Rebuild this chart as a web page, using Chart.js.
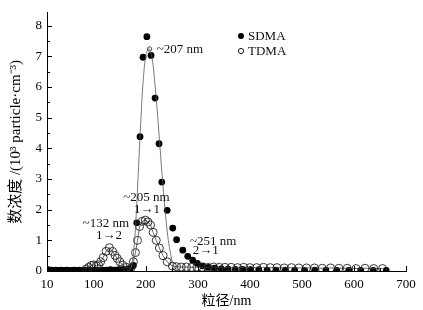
<!DOCTYPE html>
<html>
<head>
<meta charset="utf-8">
<script src="https://cdn.jsdelivr.net/npm/chart.js@4.4.0/dist/chart.umd.min.js"></script>
<style>
  html, body { margin: 0; padding: 0; background: #fff; }
</style>
</head>
<body>
<canvas id="chart" width="423" height="310"></canvas>
<script>
// SDMA measured points (nm, 10^3 particle/cm^3)
const sdmaSize = [
    11, 13, 15, 17, 19, 21, 24, 27, 30, 33,
    36, 40, 44, 48, 52, 57, 62, 67, 72, 78,
    84, 90, 96, 103, 110, 117, 124, 132, 140, 148,
    156, 164, 170, 176, 182.5, 188.8, 194.6, 202, 210, 217.7,
    225.4, 230.6, 241, 251.7, 259, 271, 280.5, 290, 299, 309,
    320, 332, 345, 358, 372, 386, 401, 417, 433, 450,
    468, 486, 505, 525, 546, 567, 590, 613, 637, 662
];
const sdmaConc = [
    0.04, 0.03, 0.03, 0.02, 0.03, 0.02, 0.02, 0.03, 0.02, 0.02,
    0.03, 0.02, 0.02, 0.03, 0.02, 0.02, 0.03, 0.02, 0.03, 0.02,
    0.02, 0.03, 0.02, 0.03, 0.02, 0.03, 0.03, 0.04, 0.03, 0.04,
    0.05, 0.05, 0.08, 0.18, 1.57, 4.38, 6.97, 7.64, 7.03, 5.64,
    4.15, 2.9, 1.98, 1.4, 1.02, 0.68, 0.48, 0.35, 0.25, 0.17,
    0.12, 0.09, 0.07, 0.06, 0.05, 0.05, 0.04, 0.04, 0.03, 0.03,
    0.03, 0.03, 0.02, 0.03, 0.02, 0.02, 0.02, 0.02, 0.02, 0.02
];

// TDMA measured points
const tdmaSize = [
    85, 90, 95, 100, 105, 109, 113, 118, 123.5, 129.9,
    136, 140.8, 145, 150, 155.5, 163, 171, 176, 180, 184,
    188, 193, 199, 204, 209, 214, 220, 226, 233, 241,
    251, 259, 268, 278, 288, 298, 308, 319, 330, 341,
    352, 364, 376, 388, 400, 413, 426, 439, 452, 466,
    480, 494, 509, 524, 539, 555, 571, 587, 604, 621,
    638, 655
];
const tdmaConc = [
    0.06, 0.12, 0.18, 0.2, 0.17, 0.2, 0.3, 0.44, 0.64, 0.76,
    0.64, 0.51, 0.41, 0.3, 0.19, 0.12, 0.09, 0.3, 0.6, 1.0,
    1.45, 1.62, 1.66, 1.6, 1.5, 1.26, 1.0, 0.75, 0.5, 0.3,
    0.16, 0.14, 0.13, 0.13, 0.12, 0.13, 0.12, 0.12, 0.13, 0.12,
    0.12, 0.12, 0.11, 0.12, 0.11, 0.11, 0.12, 0.11, 0.11, 0.1,
    0.11, 0.1, 0.1, 0.1, 0.09, 0.1, 0.09, 0.09, 0.08, 0.09,
    0.08, 0.08
];

// fitted SDMA peak (~207 nm)
const fitSize = [166, 170, 174, 178, 182, 186, 190, 194, 198, 202, 206, 210, 214,
    218, 222, 226, 230, 234, 238, 242, 246, 250, 254, 258, 262];
const fitConc = [0, 0.05, 0.3, 0.9, 2.0, 3.4, 4.8, 6.0, 6.8, 7.15, 7.24, 7.1, 6.7,
    6.0, 5.2, 4.3, 3.4, 2.55, 1.8, 1.15, 0.7, 0.35, 0.15, 0.05, 0];
const peakSize = [207];
const peakConc = [7.24];

// axis ticks
const xTickValues = [10, 100, 200, 300, 400, 500, 600, 700];
const xMinorTicks = [50, 150, 250, 350, 450, 550, 650];
const yTickValues = [0, 1, 2, 3, 4, 5, 6, 7, 8];
const yMinorTicks = [0.5, 1.5, 2.5, 3.5, 4.5, 5.5, 6.5, 7.5, 8.5];

const SERIF = "'Liberation Serif', 'Noto Sans CJK SC', serif";

// text labels placed in data coordinates
const notes = [
    { text: '~207 nm', x: 221, y: 7.23, align: 'left' },
    { text: '~205 nm', x: 201, y: 2.41, align: 'center' },
    { text: '1\u21921', x: 202, y: 1.99, align: 'center' },
    { text: '~132 nm', x: 123, y: 1.55, align: 'center' },
    { text: '1\u21922', x: 129, y: 1.16, align: 'center' },
    { text: '~251 nm', x: 285, y: 0.97, align: 'left' },
    { text: '2\u21921', x: 290, y: 0.65, align: 'left' }
];

function toPoints(xs, ys) {
    return xs.map((v, i) => ({ x: v, y: ys[i] }));
}

const decorPlugin = {
    id: 'decor',
    afterDraw(chart) {
        const { ctx, scales: { x, y } } = chart;
        ctx.save();
        ctx.strokeStyle = '#000';
        ctx.lineWidth = 1;
        ctx.beginPath();
        // inward ticks
        yTickValues.concat(yMinorTicks).forEach(v => {
            if (v > y.max) return;
            const py = Math.round(y.getPixelForValue(v)) + 0.5;
            const len = Number.isInteger(v) ? 5 : 3;
            ctx.moveTo(x.left, py);
            ctx.lineTo(x.left + len, py);
        });
        xTickValues.concat(xMinorTicks).forEach(v => {
            const px = Math.round(x.getPixelForValue(v)) + 0.5;
            const len = v % 100 === 0 ? 5 : 3;
            ctx.moveTo(px, y.bottom);
            ctx.lineTo(px, y.bottom - len);
        });
        ctx.stroke();

        // notes
        ctx.fillStyle = '#111';
        ctx.font = '13px ' + SERIF;
        ctx.textBaseline = 'middle';
        notes.forEach(n => {
            ctx.textAlign = n.align;
            ctx.fillText(n.text, x.getPixelForValue(n.x), y.getPixelForValue(n.y));
        });

        // legend
        ctx.textAlign = 'left';
        ctx.beginPath();
        ctx.arc(241, 36, 3, 0, Math.PI * 2);
        ctx.fillStyle = '#000';
        ctx.fill();
        ctx.beginPath();
        ctx.arc(241, 51, 2.6, 0, Math.PI * 2);
        ctx.lineWidth = 0.9;
        ctx.stroke();
        ctx.fillStyle = '#111';
        ctx.fillText('SDMA', 248, 37);
        ctx.fillText('TDMA', 248, 52);
        ctx.restore();
    }
};

new Chart(document.getElementById('chart'), {
    type: 'scatter',
    data: {
        datasets: [
            {
                label: 'fit',
                data: toPoints(fitSize, fitConc),
                showLine: true,
                borderColor: '#555',
                borderWidth: 0.8,
                pointRadius: 0,
                cubicInterpolationMode: 'monotone'
            },
            {
                label: 'peak',
                data: toPoints(peakSize, peakConc),
                pointRadius: 2.2,
                pointBackgroundColor: '#fff',
                pointBorderColor: '#222',
                pointBorderWidth: 0.8
            },
            {
                label: 'TDMA',
                data: toPoints(tdmaSize, tdmaConc),
                showLine: true,
                borderColor: '#444',
                borderWidth: 0.8,
                pointRadius: 4,
                pointBackgroundColor: 'rgba(255,255,255,0)',
                pointBorderColor: '#222',
                pointBorderWidth: 0.9
            },
            {
                label: 'SDMA',
                data: toPoints(sdmaSize, sdmaConc),
                pointRadius: 3.4,
                pointBackgroundColor: '#000',
                pointBorderColor: '#000',
                pointBorderWidth: 0
            }
        ]
    },
    options: {
        responsive: false,
        animation: false,
        layout: { padding: { top: 9, right: 17, left: 0, bottom: 0 } },
        plugins: {
            legend: { display: false },
            tooltip: { enabled: false }
        },
        scales: {
            x: {
                type: 'linear',
                min: 10,
                max: 700,
                afterBuildTicks: s => { s.ticks = xTickValues.map(v => ({ value: v })); },
                afterFit: s => { s.height = 39; },
                grid: { display: true, drawOnChartArea: false, drawTicks: false },
                border: { display: true, color: '#000', width: 1 },
                ticks: {
                    autoSkip: false,
                    maxRotation: 0,
                    padding: 6,
                    color: '#000',
                    font: { family: SERIF, size: 13 }
                },
                title: {
                    display: true,
                    text: '粒径/nm',
                    color: '#000',
                    padding: { top: 0, bottom: 0 },
                    font: { family: SERIF, size: 14 }
                }
            },
            y: {
                min: 0,
                max: 8.42,
                afterBuildTicks: s => { s.ticks = yTickValues.map(v => ({ value: v })); },
                afterFit: s => { s.width = 47; },
                grid: { display: true, drawOnChartArea: false, drawTicks: false },
                border: { display: true, color: '#000', width: 1 },
                ticks: {
                    padding: 5,
                    color: '#000',
                    font: { family: SERIF, size: 13 }
                },
                title: {
                    display: true,
                    text: '数浓度 /(10³ particle·cm⁻³)',
                    color: '#000',
                    padding: { top: 7, bottom: 0 },
                    font: { family: SERIF, size: 15 }
                }
            }
        }
    },
    plugins: [decorPlugin]
});
</script>
</body>
</html>
